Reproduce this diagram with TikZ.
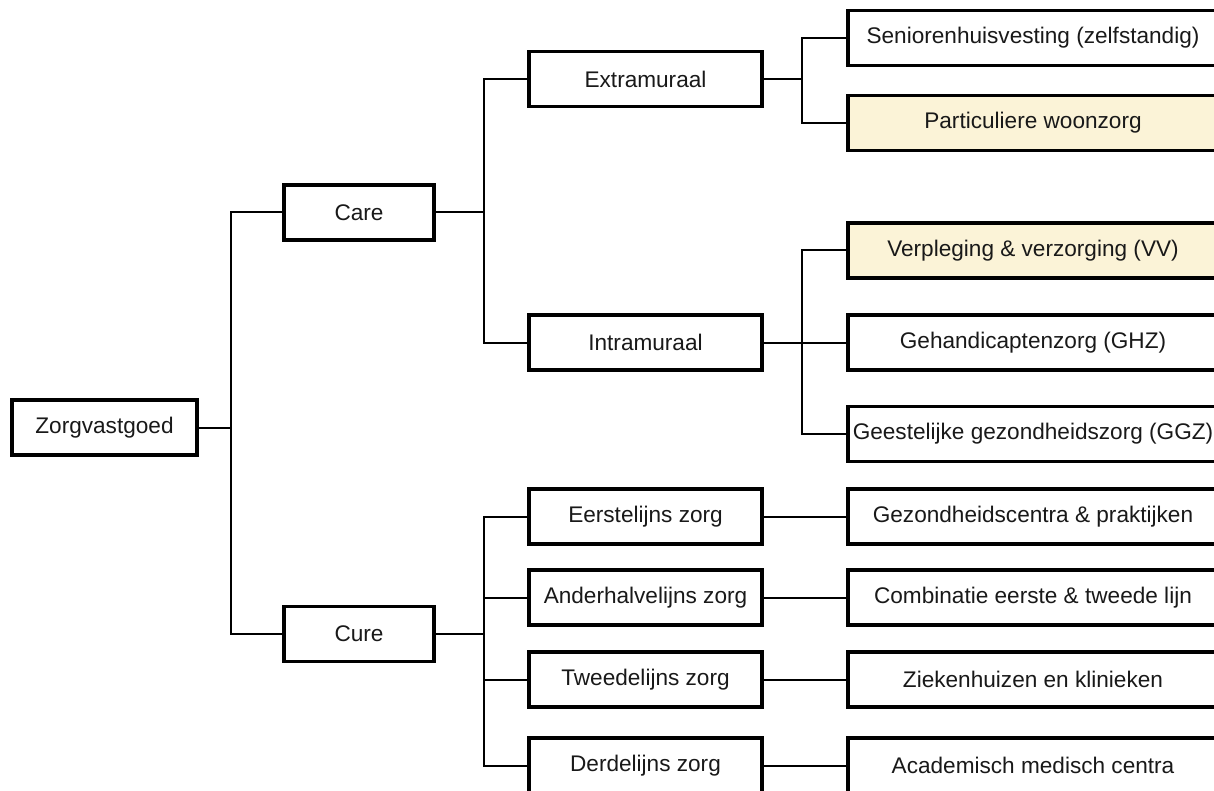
\documentclass[tikz,border=0pt]{standalone}
\usepackage{fontspec}
\setmainfont{Liberation Sans}
\definecolor{hl}{RGB}{251,243,215}
\tikzset{
  box/.style={draw=black, line width=3.6pt, fill=white, minimum height=55pt, inner sep=0pt,
    font=\fontsize{22.6}{27}\selectfont, text=black!90},
  lvlzero/.style={box, minimum width=185pt},
  lvlone/.style={box, minimum width=150pt},
  lvltwo/.style={box, minimum width=233pt},
  lvlthree/.style={box, minimum width=370pt},
  hlbox/.style={fill=hl},
  conn/.style={draw=black, line width=2pt}
}
\begin{document}
\begin{tikzpicture}[x=1pt,y=-1pt]
\useasboundingbox (0,0) rectangle (1214,791);
% nodes
\node[lvlzero] (zorg) at (104.5,427.5) {Zorgvastgoed};
\node[lvlone] (care) at (359,212.5) {Care};
\node[lvlone] (cure) at (359,634) {Cure};
\node[lvltwo] (extra) at (645.5,79) {Extramuraal};
\node[lvltwo] (intra) at (645.5,342.5) {Intramuraal};
\node[lvltwo] (eerste) at (645.5,516.5) {Eerstelijns zorg};
\node[lvltwo] (anderh) at (645.5,597.5) {Anderhalvelijns zorg};
\node[lvltwo] (tweede) at (645.5,679.5) {Tweedelijns zorg};
\node[lvltwo] (derde) at (645.5,765.5) {Derdelijns zorg};
\node[lvlthree] (senior) at (1033,38) {Seniorenhuisvesting (zelfstandig)};
\node[lvlthree,hlbox] (part) at (1033,123) {Particuliere woonzorg};
\node[lvlthree,hlbox] (vv) at (1033,250.5) {Verpleging \& verzorging (VV)};
\node[lvlthree] (ghz) at (1033,342.5) {Gehandicaptenzorg (GHZ)};
\node[lvlthree] (ggz) at (1033,434) {Geestelijke gezondheidszorg (GGZ)};
\node[lvlthree] (gez) at (1033,516.5) {Gezondheidscentra \& praktijken};
\node[lvlthree] (comb) at (1033,597.5) {Combinatie eerste \& tweede lijn};
\node[lvlthree] (zieken) at (1033,679.5) {Ziekenhuizen en klinieken};
\node[lvlthree] (acad) at (1033,765.5) {Academisch medisch centra};
% junctions
\coordinate (j1) at (231,427.5);
\coordinate (j2) at (484,212.5);
\coordinate (j3) at (802,79);
\coordinate (j4) at (802,342.5);
\coordinate (j5) at (484,634);
% connectors
\draw[conn] (zorg.east) -- (j1) |- (care.west);
\draw[conn] (j1) |- (cure.west);
\draw[conn] (care.east) -- (j2) |- (extra.west);
\draw[conn] (j2) |- (intra.west);
\draw[conn] (extra.east) -- (j3) |- (senior.west);
\draw[conn] (j3) |- (part.west);
\draw[conn] (intra.east) -- (j4) |- (vv.west);
\draw[conn] (j4) -- (ghz.west);
\draw[conn] (j4) |- (ggz.west);
\draw[conn] (cure.east) -- (j5) |- (eerste.west);
\draw[conn] (j5) |- (anderh.west);
\draw[conn] (j5) |- (tweede.west);
\draw[conn] (j5) |- (derde.west);
\draw[conn] (eerste.east) -- (gez.west);
\draw[conn] (anderh.east) -- (comb.west);
\draw[conn] (tweede.east) -- (zieken.west);
\draw[conn] (derde.east) -- (acad.west);
\end{tikzpicture}
\end{document}
